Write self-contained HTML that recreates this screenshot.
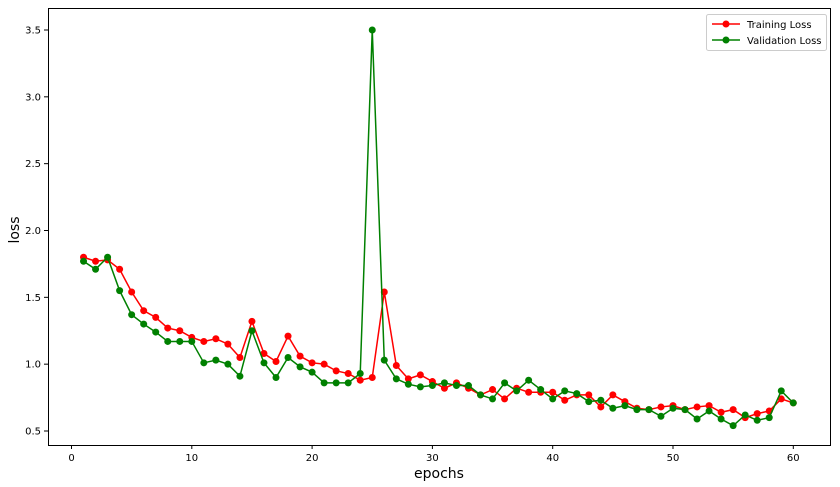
<!DOCTYPE html>
<html><head><meta charset="utf-8"><style>
body{margin:0;background:#fff}
svg{display:block;font-family:"DejaVu Sans","Liberation Sans",sans-serif}
</style></head><body>
<svg id="chart" width="840" height="487">
<rect x="48.5" y="8.5" width="782" height="437" fill="#fff" stroke="#000" stroke-width="1"/>
<g id="ticks"></g>
<g id="series"></g>
<text x="439" y="478" font-size="14" text-anchor="middle">epochs</text>
<text x="19" y="230" font-size="14" text-anchor="middle" transform="rotate(-90 19 230)">loss</text>
<g>
<rect x="706.5" y="14.5" width="120" height="36" rx="2" fill="#fff" stroke="#ccc"/>
<g>
<line x1="712" y1="24" x2="740" y2="24" stroke="red" stroke-width="1.5"/><circle cx="726" cy="24" r="3.5" fill="red"/>
<text x="747" y="28" font-size="10">Training Loss</text></g>
<g>
<line x1="712" y1="40" x2="740" y2="40" stroke="green" stroke-width="1.5"/><circle cx="726" cy="40" r="3.5" fill="green"/>
<text x="747" y="44" font-size="10">Validation Loss</text></g>
</g>
</svg>
<script>
const epochs=[];for(let i=1;i<=60;i++)epochs.push(i);
const trainLoss=[1.80,1.77,1.78,1.71,1.54,1.40,1.35,1.27,1.25,1.20,1.17,1.19,1.15,1.05,1.32,1.08,1.02,1.21,1.06,1.01,1.00,0.95,0.93,0.88,0.90,1.54,0.99,0.89,0.92,0.87,0.82,0.86,0.82,0.77,0.81,0.74,0.82,0.79,0.79,0.79,0.73,0.77,0.77,0.68,0.77,0.72,0.67,0.66,0.68,0.69,0.66,0.68,0.69,0.64,0.66,0.60,0.63,0.65,0.74,0.71];
const valLoss=[1.77,1.71,1.80,1.55,1.37,1.30,1.24,1.17,1.17,1.17,1.01,1.03,1.00,0.91,1.25,1.01,0.90,1.05,0.98,0.94,0.86,0.86,0.86,0.93,3.50,1.03,0.89,0.85,0.83,0.84,0.86,0.84,0.84,0.77,0.74,0.86,0.80,0.88,0.81,0.74,0.80,0.78,0.72,0.73,0.67,0.69,0.66,0.66,0.61,0.67,0.66,0.59,0.65,0.59,0.54,0.62,0.58,0.60,0.80,0.71];
const xTicks=[0,10,20,30,40,50,60];
const yTicks=[0.5,1.0,1.5,2.0,2.5,3.0,3.5];
const xs=v=>71.5+v*12.03;
const ys=v=>431-(v-0.5)*133.67;
const NS="http://www.w3.org/2000/svg";
const tg=document.getElementById('ticks');
xTicks.forEach(t=>{
 const l=document.createElementNS(NS,'line');l.setAttribute('x1',xs(t));l.setAttribute('x2',xs(t));l.setAttribute('y1',445);l.setAttribute('y2',449);l.setAttribute('stroke','#000');
 
 
 tg.appendChild(l);
 const tx=document.createElementNS(NS,'text');tx.setAttribute('x',xs(t));tx.setAttribute('y',461);tx.setAttribute('font-size','10');tx.setAttribute('text-anchor','middle');tx.textContent=t;
 
 
 tg.appendChild(tx);
});
yTicks.forEach(t=>{
 const l=document.createElementNS(NS,'line');l.setAttribute('x1',44);l.setAttribute('x2',48);l.setAttribute('y1',ys(t));l.setAttribute('y2',ys(t));l.setAttribute('stroke','#000');
 
 
 tg.appendChild(l);
 const tx=document.createElementNS(NS,'text');tx.setAttribute('x',41);tx.setAttribute('y',ys(t)+3.5);tx.setAttribute('font-size','10');tx.setAttribute('text-anchor','end');tx.textContent=t.toFixed(1);
 
 
 tg.appendChild(tx);
});
const sg=document.getElementById('series');
function draw(vals,color,name){
 const g=document.createElementNS(NS,'g');
 
 
 const p=document.createElementNS(NS,'polyline');
 p.setAttribute('points',vals.map((v,i)=>xs(epochs[i])+','+ys(v)).join(' '));
 p.setAttribute('fill','none');p.setAttribute('stroke',color);p.setAttribute('stroke-width','1.5');
 
 
 g.appendChild(p);
 vals.forEach((v,i)=>{
  const c=document.createElementNS(NS,'circle');c.setAttribute('cx',xs(epochs[i]));c.setAttribute('cy',ys(v));c.setAttribute('r',3.5);c.setAttribute('fill',color);
  
  
  g.appendChild(c);
 });
 sg.appendChild(g);
}
draw(trainLoss,'red','training-loss-series');
draw(valLoss,'green','validation-loss-series');
</script>
</body></html>
